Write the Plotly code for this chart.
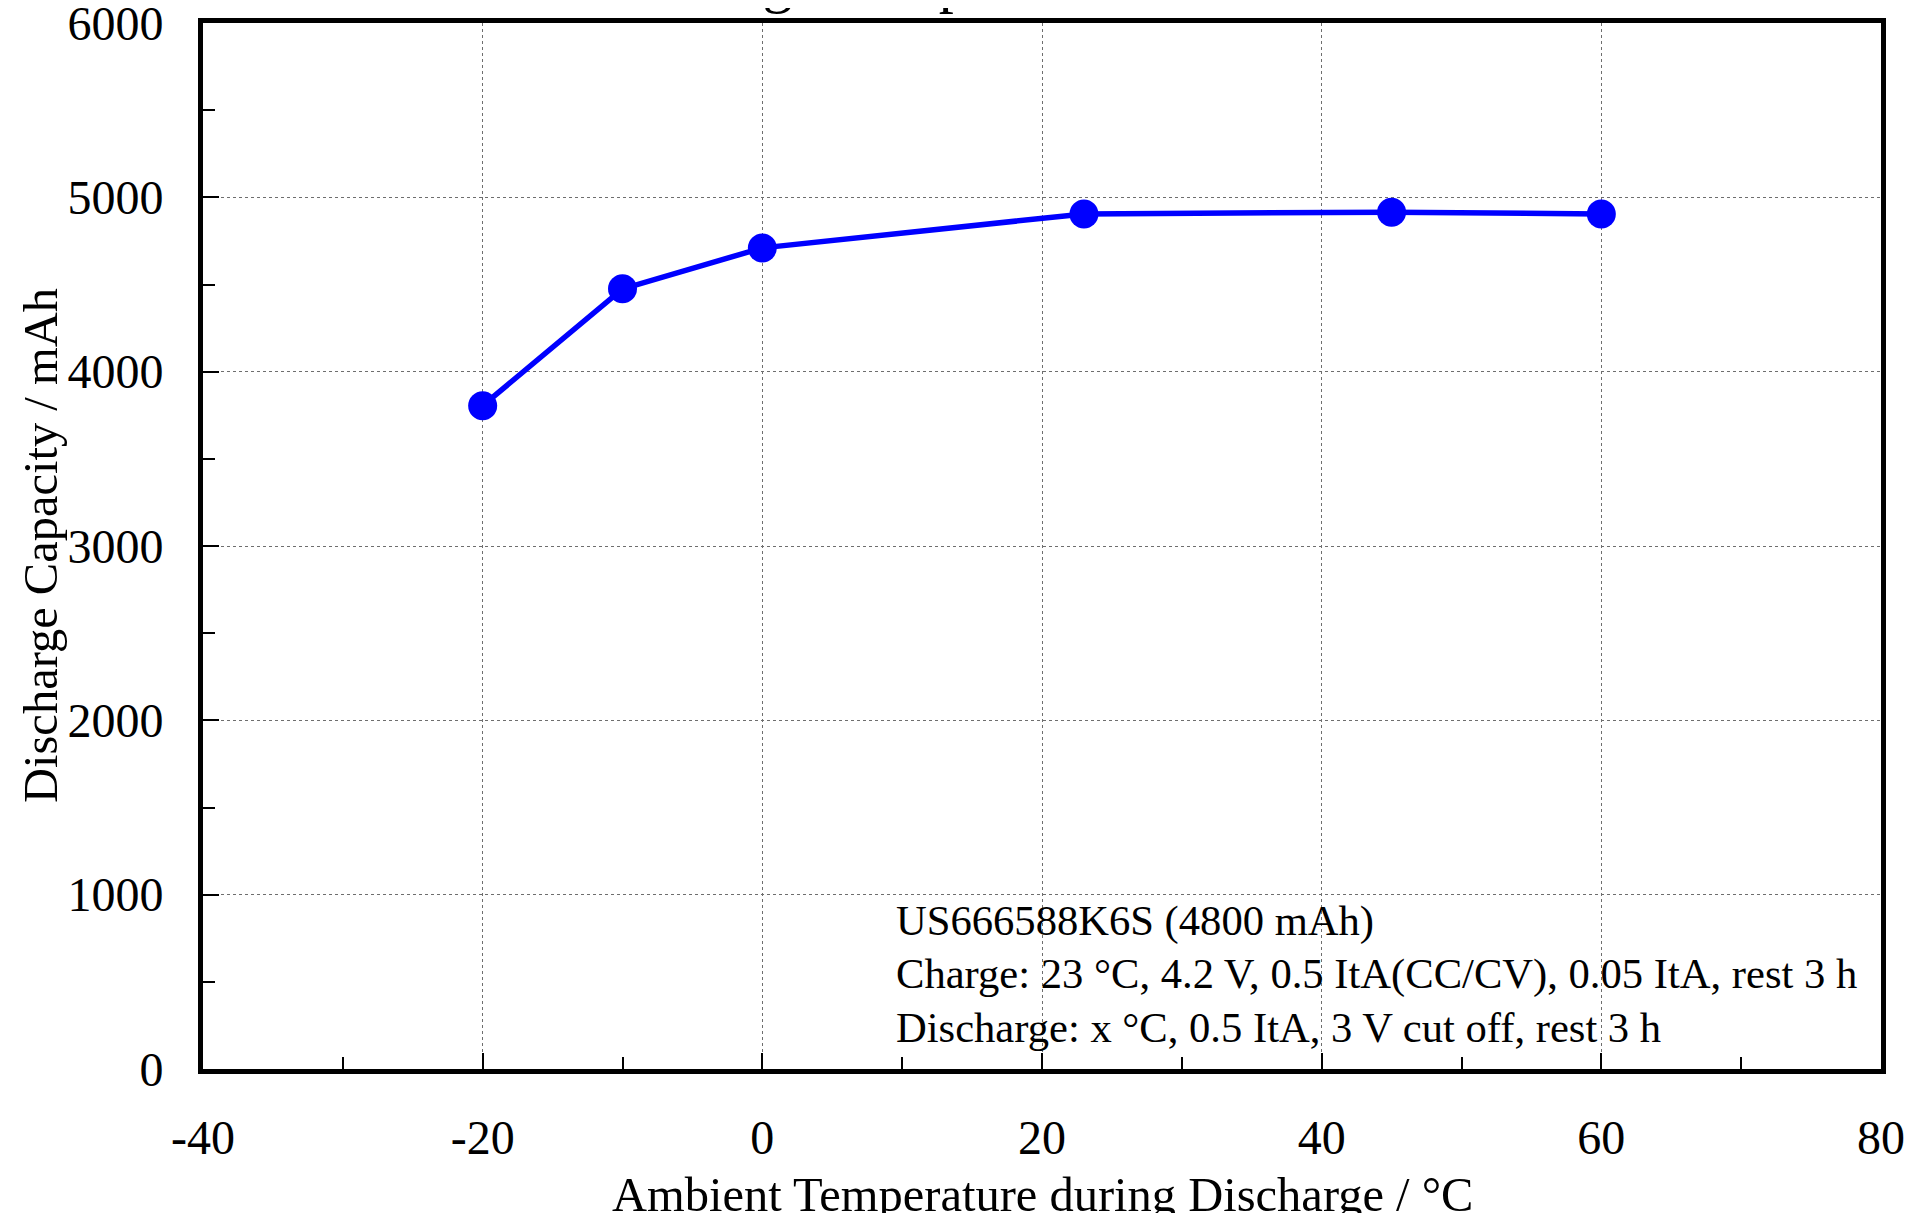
import plotly.graph_objects as go

# Data
temperature_c = [-20, -10, 0, 23, 45, 60]
capacity_mah = [3805, 4475, 4710, 4905, 4915, 4905]

x_ticks = [-40, -20, 0, 20, 40, 60, 80]
y_ticks = [0, 1000, 2000, 3000, 4000, 5000, 6000]

title_text = "Discharge Temperature Characteristics"
x_title = "Ambient Temperature during Discharge / °C"
y_title = "Discharge Capacity / mAh"
note_lines = [
    "US666588K6S (4800 mAh)",
    "Charge: 23 °C, 4.2 V, 0.5 ItA(CC/CV), 0.05 ItA, rest 3 h",
    "Discharge: x °C, 0.5 ItA, 3 V cut off, rest 3 h",
]
note_y = [850, 545, 240]

FONT = "Times New Roman, Liberation Serif, serif"

# The page body has an 8 px margin, so the figure is sized to fit inside it.
OFF = 8
W, H = 1915 - 2 * OFF, 1221 - 2 * OFF
ML, MT = 203 - OFF, 23 - OFF
MR = W - (1881 - OFF)
MB = H - (1069 - OFF)
PH = H - MT - MB
PW = W - ML - MR

fig = go.Figure()
fig.add_trace(go.Scatter(
    x=temperature_c, y=capacity_mah, mode="lines+markers",
    line=dict(color="#0000FF", width=5.5),
    marker=dict(color="#0000FF", size=29),
    showlegend=False, cliponaxis=False,
))

axis_common = dict(
    showline=True, linecolor="black", linewidth=5, mirror=True,
    showgrid=True, gridcolor="#6e6e6e", gridwidth=1, griddash="dot",
    ticks="inside", ticklen=16, tickwidth=1.5, tickcolor="black",
    zeroline=False, automargin=False, ticklabeloverflow="allow",
    tickfont=dict(family=FONT, size=48, color="black"),
)

fig.update_xaxes(
    **axis_common,
    range=[-40, 80], tickvals=x_ticks, ticktext=[str(v) for v in x_ticks],
    minor=dict(dtick=10, ticks="inside", ticklen=12, tickwidth=1.5, tickcolor="black", showgrid=False),
    ticklabelstandoff=22,
)
fig.update_yaxes(
    **axis_common,
    range=[0, 6000], tickvals=y_ticks, ticktext=[str(v) for v in y_ticks],
    minor=dict(dtick=500, ticks="inside", ticklen=12, tickwidth=1.5, tickcolor="black", showgrid=False),
    ticklabelstandoff=25,
)

# axis titles
fig.add_annotation(x=0.5, y=-((1194 - OFF) - MT - PH) / PH, xref="paper", yref="paper",
                   text=x_title, showarrow=False, xanchor="center", yanchor="middle",
                   font=dict(family=FONT, size=48.5, color="black"))
fig.add_annotation(x=-(ML - (40 - OFF)) / PW, y=0.5, xref="paper", yref="paper",
                   text=y_title, showarrow=False, xanchor="center", yanchor="middle",
                   textangle=-90,
                   font=dict(family=FONT, size=48.5, color="black"))

for txt, yv in zip(note_lines, note_y):
    fig.add_annotation(x=9.4, y=yv, xref="x", yref="y", text=txt, showarrow=False,
                       xanchor="left", yanchor="middle",
                       font=dict(family=FONT, size=42.6, color="black"))

# title (mostly cut off at the top edge in the reference)
fig.add_annotation(x=0.5, y=1 + (MT - 8) / PH, xref="paper", yref="paper", text=title_text,
                   showarrow=False, xanchor="center", yanchor="bottom",
                   font=dict(family=FONT, size=60, color="black"))

fig.update_layout(
    width=W, height=H,
    margin=dict(l=ML, r=MR, t=MT, b=MB),
    paper_bgcolor="white", plot_bgcolor="white",
    font=dict(family=FONT, color="black"),
)

fig.write_html("out.html")
